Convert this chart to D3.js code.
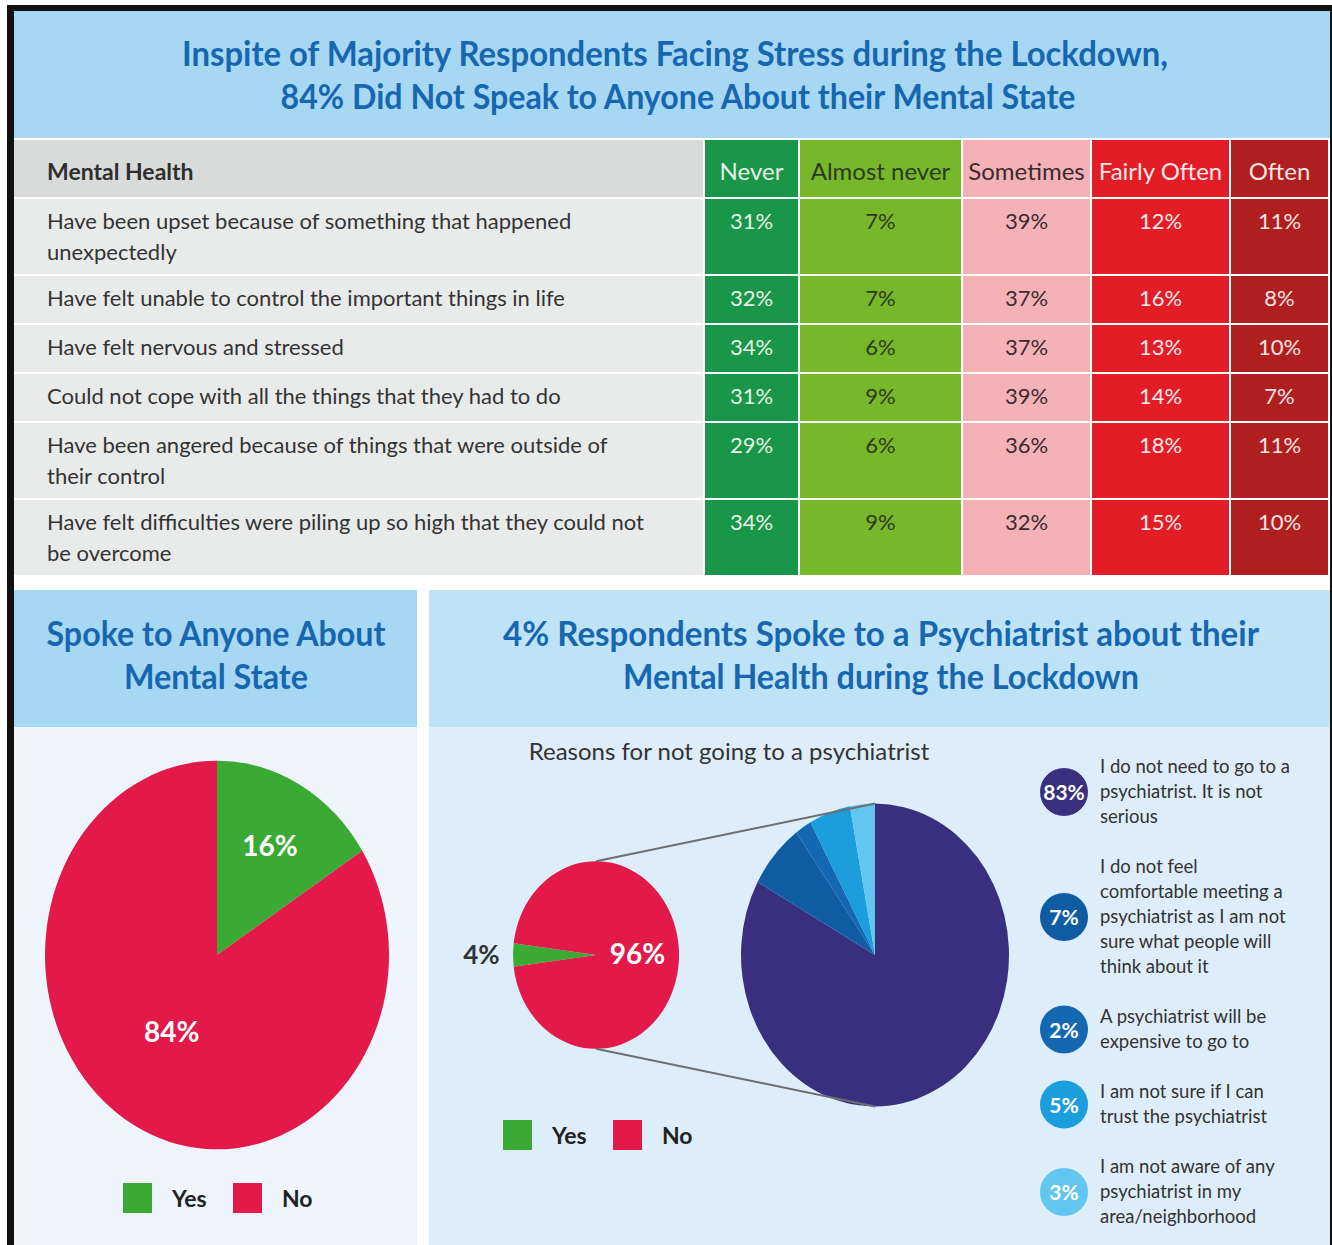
<!DOCTYPE html>
<html>
<head>
<meta charset="utf-8">
<script src="https://cdn.jsdelivr.net/npm/d3@7"></script>
<style>
  body { margin: 0; background: #fff; }
  svg { display: block; }
  text { font-family: Lato, "Noto Sans", sans-serif; }
</style>
</head>
<body>
<div id="chart"></div>
<script>
// Datos de la tabla
const frequencies = ["Never", "Almost never", "Sometimes", "Fairly Often", "Often"];
const statements = [
  ["Have been upset because of something that happened", "unexpectedly"],
  ["Have felt unable to control the important things in life"],
  ["Have felt nervous and stressed"],
  ["Could not cope with all the things that they had to do"],
  ["Have been angered because of things that were outside of", "their control"],
  ["Have felt difficulties were piling up so high that they could not", "be overcome"],
];
const shares = [
  [31, 7, 39, 12, 11],
  [32, 7, 37, 16, 8],
  [34, 6, 37, 13, 10],
  [31, 9, 39, 14, 7],
  [29, 6, 36, 18, 11],
  [34, 9, 32, 15, 10],
];

// Datos de los graficos de torta
const answerLabels = ["Yes", "No"];
const spokeValues = [16, 84];
const psychiatristValues = [4, 96];
const reasonTexts = [
  ["I do not need to go to a", "psychiatrist. It is not", "serious"],
  ["I do not feel", "comfortable meeting a", "psychiatrist as I am not", "sure what people will", "think about it"],
  ["A psychiatrist will be", "expensive to go to"],
  ["I am not sure if I can", "trust the psychiatrist"],
  ["I am not aware of any", "psychiatrist in my", "area/neighborhood"],
];
const reasonValues = [83, 7, 2, 5, 3];

// Colores
const freqColors = ["#1a9648", "#77b82b", "#f5b2b6", "#e31d26", "#b01f20"];
const freqText = ["#e6f4e6", "#2d3a1c", "#3b2b2c", "#fde8e8", "#fbe3e3"];
const answerColors = ["#3aaa35", "#e3194a"];
const reasonColors = ["#38307f", "#0f5ca3", "#1468b2", "#1c9ddc", "#62c6f0"];
const titleBlue = "#1766b0";

const W = 1332, H = 1245;
const svg = d3.select("#chart").append("svg").attr("width", W).attr("height", H);

// Marco
svg.append("rect").attr("x", 7).attr("y", 5).attr("width", W - 7).attr("height", H - 5).attr("fill", "#111");
svg.append("rect").attr("x", 14).attr("y", 11).attr("width", 1316).attr("height", H - 11).attr("fill", "#fff");

// --------------------
// Titulo principal
// --------------------
svg.append("rect").attr("x", 14).attr("y", 11).attr("width", 1316).attr("height", 127).attr("fill", "#a6d8f4");

function title(x, y, str, len) {
  svg.append("text")
    .attr("x", x).attr("y", y)
    .attr("text-anchor", "middle")
    .attr("font-size", 35).attr("font-weight", 700)
    .attr("fill", titleBlue)
    .attr("textLength", len).attr("lengthAdjust", "spacingAndGlyphs")
    .text(str);
}
title(675, 66, "Inspite of Majority Respondents Facing Stress during the Lockdown,", 986);
title(678, 109, "84% Did Not Speak to Anyone About their Mental State", 795);

// --------------------
// Tabla
// --------------------
const labelX0 = 14, labelX1 = 705;
const colEdges = [705, 800, 963, 1092, 1231, 1330];
const colX = d3.scaleOrdinal().domain(frequencies).range(colEdges.slice(0, 5));
const colW = d3.scaleOrdinal().domain(frequencies).range(colEdges.slice(1).map((e, i) => e - colEdges[i]));

const headerY = 140, headerH = 57, gap = 2;
const table = svg.append("g");

table.append("rect").attr("x", labelX0).attr("y", headerY).attr("width", labelX1 - labelX0 - gap).attr("height", headerH).attr("fill", "#d9dbdb");
table.append("text").attr("x", 47).attr("y", headerY + 40).attr("font-size", 23).attr("font-weight", 700).attr("fill", "#2e2e2e").text("Mental Health");

frequencies.forEach((f, i) => {
  table.append("rect").attr("x", colX(f)).attr("y", headerY).attr("width", colW(f) - gap).attr("height", headerH).attr("fill", freqColors[i]);
  table.append("text")
    .attr("x", colX(f) + (colW(f) - gap) / 2).attr("y", headerY + 40)
    .attr("text-anchor", "middle").attr("font-size", 24)
    .attr("fill", freqText[i]).text(f);
});

let rowY = headerY + headerH + gap;
statements.forEach((lines, r) => {
  const h = lines.length === 2 ? 75 : 47;
  table.append("rect").attr("x", labelX0).attr("y", rowY).attr("width", labelX1 - labelX0 - gap).attr("height", h).attr("fill", "#e9ebeb");
  lines.forEach((l, k) => {
    table.append("text").attr("x", 47).attr("y", rowY + 30 + k * 31)
      .attr("font-size", 22).attr("fill", "#333").text(l);
  });
  frequencies.forEach((f, i) => {
    table.append("rect").attr("x", colX(f)).attr("y", rowY).attr("width", colW(f) - gap).attr("height", h).attr("fill", freqColors[i]);
    table.append("text")
      .attr("x", colX(f) + (colW(f) - gap) / 2).attr("y", rowY + 30)
      .attr("text-anchor", "middle").attr("font-size", 22)
      .attr("fill", freqText[i]).text(shares[r][i] + "%");
  });
  rowY += h + gap;
});

// --------------------
// Paneles inferiores
// --------------------
const panelTop = 590, panelHead = 137;
svg.append("rect").attr("x", 14).attr("y", panelTop).attr("width", 403).attr("height", panelHead).attr("fill", "#a6d8f4");
svg.append("rect").attr("x", 14).attr("y", panelTop + panelHead).attr("width", 403).attr("height", H - panelTop - panelHead).attr("fill", "#eef5fc");
svg.append("rect").attr("x", 429).attr("y", panelTop).attr("width", 901).attr("height", panelHead).attr("fill", "#bee3f7");
svg.append("rect").attr("x", 429).attr("y", panelTop + panelHead).attr("width", 901).attr("height", H - panelTop - panelHead).attr("fill", "#ddeefa");

title(216, 646, "Spoke to Anyone About", 339);
title(216, 689, "Mental State", 184);
title(881, 646, "4% Respondents Spoke to a Psychiatrist about their", 756);
title(881, 689, "Mental Health during the Lockdown", 516);

const squash = 1.13; // las tortas del original estan estiradas en vertical
const pie = d3.pie().sort(null).value((d) => d);

function legendYesNo(x, y) {
  const g = svg.append("g").attr("transform", `translate(${x},${y})`);
  answerLabels.forEach((a, i) => {
    const ox = i * 110;
    g.append("rect").attr("x", ox).attr("y", -15).attr("width", 29).attr("height", 30).attr("fill", answerColors[i]);
    g.append("text").attr("x", ox + 49).attr("y", 9).attr("font-size", 23).attr("font-weight", 700).attr("fill", "#222").text(a);
  });
}

// 1. Torta izquierda
{
  const r = 172, cx = 217, cy = 955;
  const g = svg.append("g").attr("transform", `translate(${cx},${cy}) scale(1,${squash})`);
  const arc = d3.arc().innerRadius(0).outerRadius(r);
  const arcs = pie(spokeValues);
  g.selectAll("path").data(arcs).join("path").attr("d", arc).attr("fill", (d, i) => answerColors[i]);
  const labelR = [0.64, 0.45];
  arcs.forEach((d, i) => {
    const c = d3.arc().innerRadius(r * labelR[i]).outerRadius(r * labelR[i]).centroid(d);
    svg.append("text").attr("x", cx + c[0] - (i === 1 ? 8 : 0)).attr("y", cy + c[1] * squash + 10)
      .attr("text-anchor", "middle").attr("font-size", 28).attr("font-weight", 700)
      .attr("fill", "#fff").text(d.data + "%");
  });
  legendYesNo(123, 1198);
}

// 2. Torta de psiquiatra + detalle
{
  const r1 = 83, cx1 = 596, cy1 = 955;
  const r2 = 134, cx2 = 875, cy2 = 955;

  const yesAngle = (psychiatristValues[0] / 100) * 2 * Math.PI;
  const pieSmall = d3.pie().sort(null).value((d) => d)
    .startAngle(-Math.PI / 2 - yesAngle / 2).endAngle(1.5 * Math.PI - yesAngle / 2);
  const arcs1 = pieSmall(psychiatristValues);
  const arc1 = d3.arc().innerRadius(0).outerRadius(r1);
  svg.append("g").attr("transform", `translate(${cx1},${cy1}) scale(1,${squash})`)
    .selectAll("path").data(arcs1).join("path").attr("d", arc1).attr("fill", (d, i) => answerColors[i]);

  const labelR = [1.38, 0.5];
  arcs1.forEach((d, i) => {
    const c = d3.arc().innerRadius(r1 * labelR[i]).outerRadius(r1 * labelR[i]).centroid(d);
    svg.append("text").attr("x", cx1 + c[0]).attr("y", cy1 + c[1] * squash + 9)
      .attr("text-anchor", "middle").attr("font-size", i === 0 ? 26 : 28).attr("font-weight", 700)
      .attr("fill", i === 0 ? "#333" : "#fff").text(d.data + "%");
  });

  const arc2 = d3.arc().innerRadius(0).outerRadius(r2);
  svg.append("g").attr("transform", `translate(${cx2},${cy2}) scale(1,${squash})`)
    .selectAll("path").data(pie(reasonValues)).join("path").attr("d", arc2).attr("fill", (d, i) => reasonColors[i]);

  // lineas de conexion (encima de las tortas)
  svg.append("line").attr("x1", cx1).attr("y1", cy1 - r1 * squash).attr("x2", cx2).attr("y2", cy2 - r2 * squash)
    .attr("stroke", "#6b6f73").attr("stroke-width", 2);
  svg.append("line").attr("x1", cx1).attr("y1", cy1 + r1 * squash).attr("x2", cx2).attr("y2", cy2 + r2 * squash)
    .attr("stroke", "#6b6f73").attr("stroke-width", 2);

  svg.append("text").attr("x", 729).attr("y", 760).attr("text-anchor", "middle")
    .attr("font-size", 24).attr("fill", "#333").text("Reasons for not going to a psychiatrist");

  legendYesNo(503, 1135);

  // leyenda de razones
  let ly = 767;
  reasonTexts.forEach((lines, i) => {
    const mid = ly + ((lines.length - 1) * 25) / 2;
    svg.append("circle").attr("cx", 1064).attr("cy", mid).attr("r", 24).attr("fill", reasonColors[i]);
    svg.append("text").attr("x", 1064).attr("y", mid + 8).attr("text-anchor", "middle")
      .attr("font-size", 21).attr("font-weight", 700).attr("fill", "#fff").text(reasonValues[i] + "%");
    lines.forEach((l, k) => {
      svg.append("text").attr("x", 1100).attr("y", ly + k * 25 + 6)
        .attr("font-size", 18.5).attr("fill", "#333").text(l);
    });
    ly += (lines.length - 1) * 25 + 50;
  });
}
</script>
</body>
</html>
